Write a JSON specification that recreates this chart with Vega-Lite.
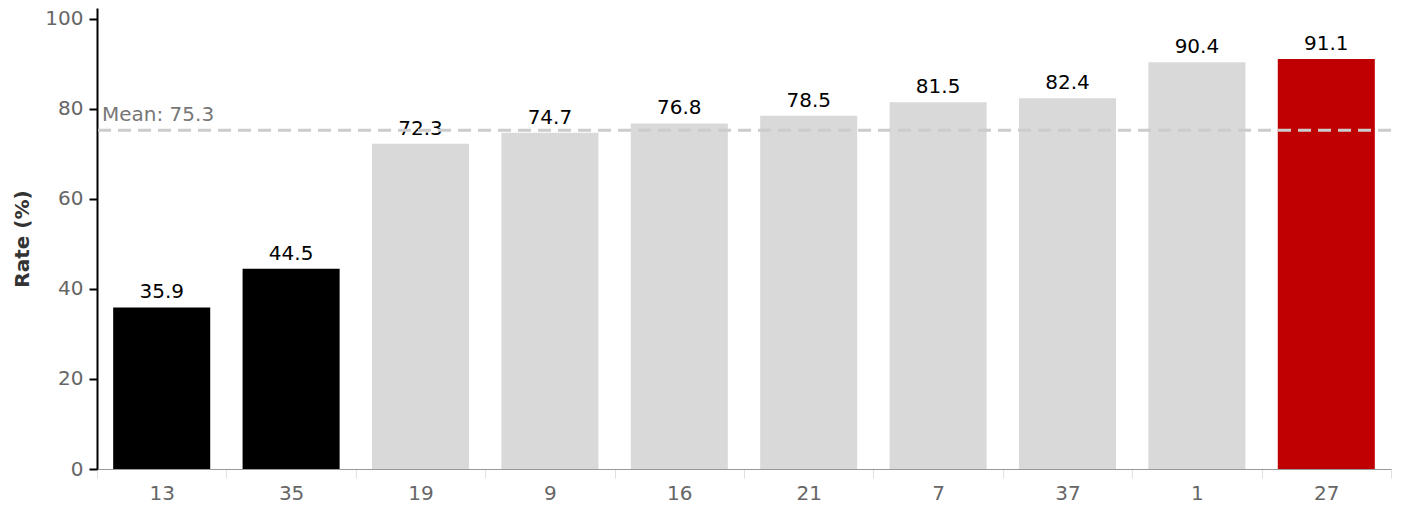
{
  "$schema": "https://vega.github.io/schema/vega-lite/v6.json",
  "width": 1294,
  "height": 461,
  "autosize": "none",
  "padding": {"left": 97, "top": 8, "right": 12, "bottom": 37},
  "background": "white",
  "config": {
    "view": {"stroke": null},
    "font": "DejaVu Sans"
  },
  "data": {
    "values": [
      {"id": "13", "rate": 35.9, "group": "low"},
      {"id": "35", "rate": 44.5, "group": "low"},
      {"id": "19", "rate": 72.3, "group": "mid"},
      {"id": "9", "rate": 74.7, "group": "mid"},
      {"id": "16", "rate": 76.8, "group": "mid"},
      {"id": "21", "rate": 78.5, "group": "mid"},
      {"id": "7", "rate": 81.5, "group": "mid"},
      {"id": "37", "rate": 82.4, "group": "mid"},
      {"id": "1", "rate": 90.4, "group": "mid"},
      {"id": "27", "rate": 91.1, "group": "top"}
    ]
  },
  "encoding": {
    "x": {
      "field": "id", "type": "nominal", "sort": null,
      "scale": {"paddingInner": 0, "paddingOuter": 0},
      "axis": {
        "title": null, "labelAngle": 0, "labelFontSize": 20, "labelColor": "#666666",
        "labelFont": "DejaVu Sans",
        "domainColor": "#999999", "domainWidth": 1,
        "tickColor": "#e0e0e0", "tickSize": 9, "tickWidth": 1, "tickBand": "extent",
        "labelPadding": 5, "grid": false
      }
    },
    "y": {
      "field": "rate", "type": "quantitative",
      "scale": {"domain": [0, 102.44], "nice": false, "zero": true},
      "axis": {
        "title": "Rate (%)", "titleFontSize": 20, "titleFontWeight": "bold", "titleColor": "#333333",
        "titleFont": "DejaVu Sans", "titlePadding": 12,
        "values": [0, 20, 40, 60, 80, 100],
        "labelFontSize": 20, "labelColor": "#666666", "labelFont": "DejaVu Sans",
        "domainColor": "#000000", "domainWidth": 2,
        "tickColor": "#000000", "tickSize": 8, "tickWidth": 2, "labelPadding": 6,
        "grid": false
      }
    }
  },
  "layer": [
    {
      "mark": {"type": "bar", "width": {"band": 0.75}},
      "encoding": {
        "color": {
          "field": "group", "type": "nominal",
          "scale": {"domain": ["low", "mid", "top"], "range": ["#000000", "#d9d9d9", "#c00000"]},
          "legend": null
        }
      }
    },
    {
      "mark": {"type": "text", "baseline": "alphabetic", "dy": -9, "fontSize": 20, "color": "#000000", "font": "DejaVu Sans"},
      "encoding": {
        "text": {"field": "rate", "type": "quantitative", "format": ".1f"}
      }
    },
    {
      "data": {"values": [{"mean": 75.3}]},
      "mark": {"type": "rule", "color": "#cccccc", "strokeWidth": 3, "strokeDash": [13, 7]},
      "encoding": {
        "x": null,
        "y": {"field": "mean", "type": "quantitative"}
      }
    },
    {
      "data": {"values": [{"mean": 75.3, "label": "Mean: 75.3", "id": "13"}]},
      "mark": {"type": "text", "align": "left", "baseline": "alphabetic", "dx": 5, "dy": -9, "fontSize": 20, "color": "#777777", "font": "DejaVu Sans"},
      "encoding": {
        "x": {"field": "id", "type": "nominal", "bandPosition": 0},
        "y": {"field": "mean", "type": "quantitative"},
        "text": {"field": "label"}
      }
    }
  ]
}
